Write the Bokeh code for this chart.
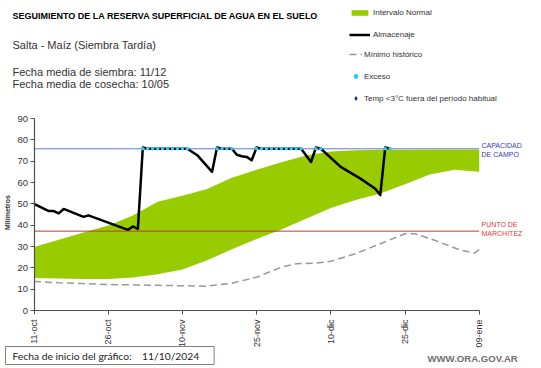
from math import pi
from bokeh.plotting import figure
from bokeh.models import Range1d, FixedTicker, Label, Legend, LegendItem, LinearAxis
from bokeh.embed import file_html
from bokeh.resources import INLINE

# ---------------- data (x = days since 11-oct-2024) ----------------
tick_days = [0, 15, 30, 45, 60, 75, 90]
tick_labels = ["11-oct", "26-oct", "10-nov", "25-nov", "10-dic", "25-dic", "09-ene"]
y_ticks = [0, 10, 20, 30, 40, 50, 60, 70, 80, 90]

normal_days = [0, 5, 10, 15, 20, 25, 30, 35, 40, 45, 50, 55, 60, 65, 70, 75, 80, 85, 90]
normal_low = [15.2, 15.0, 14.8, 14.8, 15.5, 17.0, 19.2, 23.5, 28.7, 33.5, 38.0, 43.0, 48.0,
              51.8, 54.8, 59.2, 63.8, 66.0, 65.0]
normal_high = [29.8, 33.2, 36.6, 39.9, 44.5, 51.0, 53.8, 57.0, 62.2, 66.0, 69.5, 72.6, 74.5,
               75.1, 75.3, 75.4, 75.5, 75.5, 75.5]

alm_days = [0, 3, 4, 5, 6, 10, 11, 19, 20, 21, 22, 23, 31, 33, 36, 37, 38, 40, 41, 42, 43, 44,
            45, 46, 54, 56, 57, 58, 62, 66, 69, 70, 71, 72]
alm_vals = [50.0, 46.6, 46.6, 45.5, 47.6, 43.9, 44.6, 37.8, 39.4, 38.2, 76.4, 75.8, 75.8, 72.8,
            65.0, 76.4, 75.8, 75.8, 73.0, 72.3, 72.0, 70.4, 76.4, 75.8, 75.8, 69.6, 76.4, 75.8,
            67.3, 61.8, 57.1, 54.1, 76.4, 75.8]

min_days = [0, 5, 10, 15, 20, 25, 30, 35, 40, 45, 50, 53, 57, 60, 65, 70, 75, 77, 81, 86, 89, 90]
min_vals = [13.6, 13.0, 12.6, 12.2, 12.0, 11.8, 11.6, 11.4, 12.8, 15.6, 20.3, 21.9, 22.2, 23.1,
            26.6, 31.3, 36.0, 36.0, 32.9, 28.5, 26.9, 28.5]

exceso_days = [22, 23, 24, 25, 26, 27, 28, 29, 30, 31, 37, 38, 39, 40, 45, 46, 47, 48, 49, 50,
               51, 52, 53, 54, 57, 58, 71, 72]
exceso_vals = [75.8, 75.8, 75.8, 75.8, 75.8, 75.8, 75.8, 75.8, 75.8, 75.8, 75.8, 75.8, 75.8,
               75.8, 75.8, 75.8, 75.8, 75.8, 75.8, 75.8, 75.8, 75.8, 75.8, 75.8, 75.8, 75.8,
               75.8, 75.8]

# no frost events in the period: a single missing value keeps the legend entry
temp_days = [float("nan")]
temp_vals = [float("nan")]

capacidad_campo = 75.8
punto_marchitez = 37.2

FONT = "Liberation Sans"

# ---------------- geometry: the frame is the whole canvas ----------------
W, H = 541, 368
PLOT_L, PLOT_R = 33.5, 478.7      # canvas x of first / last day
PLOT_B, PLOT_T = 310.0, 118.0     # canvas y (from top) of 0 and 90 mm
X0, X1 = tick_days[0], tick_days[-1]
Y0, Y1 = y_ticks[0], y_ticks[-1]
kx = (PLOT_R - PLOT_L) / (X1 - X0)
ky = (PLOT_B - PLOT_T) / (Y1 - Y0)
x_range = Range1d(X0 - PLOT_L / kx, X1 + (W - PLOT_R) / kx)
y_range = Range1d(Y0 - (H - PLOT_B) / ky, Y1 + PLOT_T / ky)

p = figure(width=W, height=H, x_range=x_range, y_range=y_range, x_axis_type=None,
           y_axis_type=None, min_border=0, output_backend="svg", toolbar_location=None,
           title=None)
p.outline_line_color = None
p.background_fill_color = "white"
p.border_fill_color = "white"

xaxis = LinearAxis(fixed_location=Y0, bounds=(X0, X1), ticker=FixedTicker(ticks=tick_days),
                   major_label_overrides={d: t for d, t in zip(tick_days, tick_labels)},
                   major_label_orientation=pi / 2)
yaxis = LinearAxis(fixed_location=X0, bounds=(Y0, Y1), ticker=FixedTicker(ticks=y_ticks))
for ax in (xaxis, yaxis):
    ax.axis_line_color = "#505050"
    ax.axis_line_width = 1.2
    ax.major_tick_line_color = "#505050"
    ax.major_tick_out = 4
    ax.major_tick_in = 0
    ax.minor_tick_line_color = None
    ax.major_label_text_font = FONT
    ax.major_label_text_color = "#333333"
xaxis.major_label_text_font_size = "9px"
yaxis.major_label_text_font_size = "9.5px"
xaxis.major_label_standoff = 5
yaxis.major_label_standoff = 2
p.add_layout(xaxis, "below")
p.add_layout(yaxis, "left")

# capacity line (under everything), from first to last day
p.line([X0, X1], [capacidad_campo, capacidad_campo], line_color="#5B7FCF", line_width=1,
       level="underlay")

# series
r_normal = p.varea(x=normal_days, y1=normal_low, y2=normal_high, fill_color="#99CC00")
r_min = p.line(min_days, min_vals, line_color="#999999", line_width=1.5, line_dash="7 4")
r_alm = p.line(alm_days, alm_vals, line_color="black", line_width=2.5, line_join="round")
r_exc = p.scatter(exceso_days, exceso_vals, marker="circle", size=3.6, fill_color="#33CCEE",
                  line_color=None)
r_temp = p.scatter(temp_days, temp_vals, marker="diamond", size=7, fill_color="#1F1F99",
                   line_color=None)

# wilting point line (over the green band)
p.line([X0, X1], [punto_marchitez, punto_marchitez], line_color="#CC3333", line_width=1)


def make_legend(items, loc, glyph_w, glyph_h, standoff, spacing):
    lg = Legend(items=items, location=loc, orientation="vertical")
    lg.glyph_width = glyph_w
    lg.glyph_height = glyph_h
    lg.label_height = glyph_h
    lg.spacing = spacing
    lg.padding = 0
    lg.margin = 0
    lg.label_standoff = standoff
    lg.label_text_font = FONT
    lg.label_text_font_size = "8px"
    lg.label_text_color = "#333333"
    lg.border_line_color = None
    lg.background_fill_alpha = 0
    p.add_layout(lg, "center")


# legends (screen units: frame == canvas, origin bottom-left)
make_legend([LegendItem(label="Intervalo Normal", renderers=[r_normal]),
             LegendItem(label="Almacenaje", renderers=[r_alm])], (349, 329), 21, 7, 3, 13)
make_legend([LegendItem(label="Mínimo histórico", renderers=[r_min]),
             LegendItem(label="Exceso", renderers=[r_exc]),
             LegendItem(label="Temp <3°C fuera del período habitual", renderers=[r_temp])],
            (349, 264), 13, 12, 2, 10)


def lab(text, sx, sy, size, color="#222222", style="normal", font=FONT, **kw):
    p.add_layout(Label(x=sx, y=sy, x_units="screen", y_units="screen", text=text,
                       text_font=font, text_font_size=size, text_color=color,
                       text_font_style=style, text_baseline="middle", **kw))


lab("SEGUIMIENTO DE LA RESERVA  SUPERFICIAL DE AGUA EN EL SUELO", 12, 353, "9px",
    color="#000000", style="bold")
lab("Salta - Maíz (Siembra Tardía)", 12, 324, "11px", color="#333333")
lab("Fecha media de siembra: 11/12", 12, 297, "11px", color="#333333")
lab("Fecha media de cosecha: 10/05", 12, 285, "11px", color="#333333")

lab("Milímetros", 7, 156, "7px", color="#333333", style="bold", angle=pi / 2,
    text_align="center")

lab("CAPACIDAD", 481, 223, "7px", color="#3A3AB5")
lab("DE  CAMPO", 481, 214, "7px", color="#3A3AB5")
lab("PUNTO  DE", 481, 144, "7px", color="#DD3B3B")
lab("MARCHITEZ", 481, 135, "7px", color="#DD3B3B")

lab("WWW.ORA.GOV.AR", 427, 10, "9.6px", color="#707070", style="bold")

p.add_layout(Label(x=5, y=13, x_units="screen", y_units="screen",
                   text="Fecha de inicio del gráfico:\u00a0\u00a0\u00a0\u00a011/10/2024\u00a0\u00a0\u00a0",
                   text_font="Lato", text_font_size="10.3px", text_color="#222222",
                   text_baseline="middle", border_line_color="#8a7f7f", border_line_width=1,
                   background_fill_color="white", padding=(7, 3)))

open("out.html", "w").write(file_html(p, INLINE))
